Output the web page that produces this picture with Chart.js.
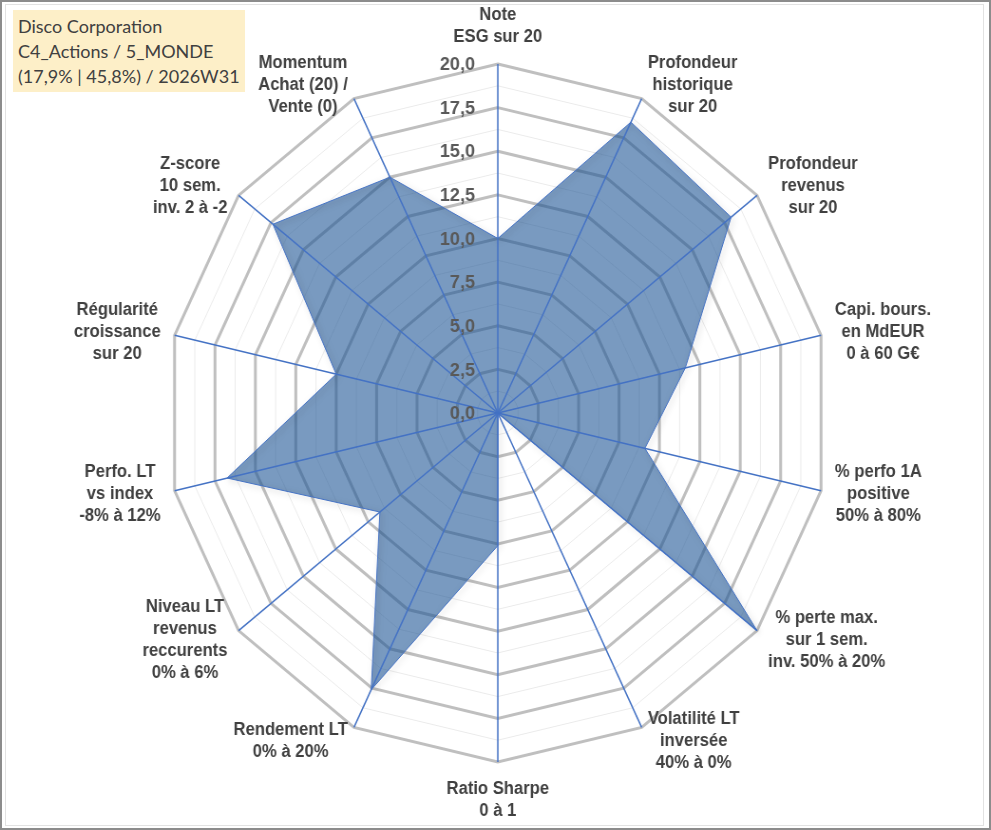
<!DOCTYPE html>
<html><head><meta charset="utf-8">
<script src="https://cdn.jsdelivr.net/npm/chart.js@4.4.1/dist/chart.umd.min.js"></script>
<style>
html,body{margin:0;padding:0;background:#fff;width:991px;height:830px;overflow:hidden;}
#wrap{position:absolute;left:0;top:0;width:1043px;height:830px;transform:scaleX(0.95);transform-origin:0 0;}
#frame{position:absolute;left:0;top:0;width:991px;height:830px;box-sizing:border-box;border:2px solid #8c8c8c;pointer-events:none;}
#inner{position:absolute;left:3px;top:2px;width:977px;height:820px;border:1px solid #e2e2e2;}
#title{position:absolute;left:13px;top:10px;width:232px;height:82px;background:#FDEFC8;font-family:Lato,"Open Sans",sans-serif;font-size:18px;color:#404040;line-height:25px;padding:4px 0 0 5px;box-sizing:border-box;white-space:nowrap;}
</style>
</head>
<body>
<div id="wrap"><canvas id="c" width="1043" height="830"></canvas></div>
<div id="frame"><div id="inner"></div></div>
<div id="title"></div>
<script>
const titleLines = ['Disco Corporation', 'C4_Actions / 5_MONDE', '(17,9% | 45,8%) / 2026W31'];
const categories = [
  ['Note', 'ESG sur 20'],
  ['Profondeur', 'historique', 'sur 20'],
  ['Profondeur', 'revenus', 'sur 20'],
  ['Capi. bours.', 'en MdEUR', '0 à 60 G€'],
  ['% perfo 1A', 'positive', '50% à 80%'],
  ['% perte max.', 'sur 1 sem.', 'inv. 50% à 20%'],
  ['Volatilité LT', 'inversée', '40% à 0%'],
  ['Ratio Sharpe', '0 à 1'],
  ['Rendement LT', '0% à 20%'],
  ['Niveau LT', 'revenus', 'reccurents', '0% à 6%'],
  ['Perfo. LT', 'vs index', '-8% à 12%'],
  ['Régularité', 'croissance', 'sur 20'],
  ['Z-score', '10 sem.', 'inv. 2 à -2'],
  ['Momentum', 'Achat (20) /', 'Vente (0)']
];
const scores = [10, 18.5, 18, 11.6, 9.1, 20, 0, 7.6, 17.6, 9.1, 16.75, 10, 17.35, 15];
const tickValues = [0, 2.5, 5, 7.5, 10, 12.5, 15, 17.5, 20];
const tickLabels = ['0,0', '2,5', '5,0', '7,5', '10,0', '12,5', '15,0', '17,5', '20,0'];

document.getElementById('title').innerHTML = titleLines.map(t => '<div>' + t + '</div>').join('');

const shadow = {
  id: 'shadow',
  beforeDatasetDraw(chart) {
    const ctx = chart.ctx;
    ctx.save();
    ctx.shadowColor = 'rgba(0,0,0,0.35)';
    ctx.shadowBlur = 6;
    ctx.shadowOffsetX = 2;
    ctx.shadowOffsetY = 2;
  },
  afterDatasetDraw(chart) {
    chart.ctx.restore();
  }
};

const overlay = {
  id: 'overlay',
  afterDatasetsDraw(chart) {
    const s = chart.scales.r;
    const ctx = chart.ctx;
    const n = chart.data.labels.length;
    ctx.save();
    ctx.strokeStyle = '#4472C4';
    ctx.lineWidth = 1.5;
    for (let i = 0; i < n; i++) {
      const p = s.getPointPosition(i, s.drawingArea);
      ctx.beginPath();
      ctx.moveTo(s.xCenter, s.yCenter);
      ctx.lineTo(p.x, p.y);
      ctx.stroke();
    }
    ctx.font = 'bold 19px "Liberation Sans", Arial, sans-serif';
    ctx.fillStyle = '#595959';
    ctx.textAlign = 'right';
    ctx.textBaseline = 'middle';
    tickValues.forEach((v, k) => {
      const y = s.yCenter - s.getDistanceFromCenterForValue(v);
      ctx.fillText(tickLabels[k], s.xCenter - 24, y + 1);
    });
    ctx.font = 'bold 17.5px "Liberation Sans", Arial, sans-serif';
    ctx.fillStyle = '#404040';
    ctx.textAlign = 'center';
    const lh = 22;
    for (let i = 0; i < n; i++) {
      const lines = chart.data.labels[i];
      const a = s.getIndexAngle(i);
      const sin = Math.sin(a), cos = Math.cos(a);
      const v = s.getPointPosition(i, s.drawingArea);
      const w = Math.max(...lines.map(t => ctx.measureText(t).width));
      const h = lines.length * lh;
      let cx, cy;
      if (Math.abs(sin) < 0.05) { cx = v.x; cy = v.y - cos * (16 + h / 2); }
      else { cx = v.x + sin * 15 + Math.sign(sin) * w / 2; cy = v.y - cos * 15; }
      lines.forEach((t, j) => ctx.fillText(t, cx, cy - h / 2 + lh * (j + 0.5)));
    }
    ctx.restore();
  }
};

new Chart(document.getElementById('c'), {
  type: 'radar',
  data: {
    labels: categories,
    datasets: [{
      data: scores,
      fill: true,
      backgroundColor: 'rgba(31,86,150,0.6)',
      borderColor: '#4472C4',
      borderWidth: 1,
      pointRadius: 0,
      pointHoverRadius: 0
    }]
  },
  options: {
    responsive: false,
    animation: false,
    layout: { padding: { left: 5, right: 0, top: 64, bottom: 68 } },
    plugins: { legend: { display: false }, tooltip: { enabled: false } },
    scales: {
      r: {
        min: 0, max: 20,
        ticks: { stepSize: 1.25, display: false },
        pointLabels: { display: false },
        angleLines: { display: false },
        grid: {
          color: c => (c.tick && c.tick.value % 2.5 === 0) ? '#BFBFBF' : '#EBEBEB',
          lineWidth: c => (c.tick && c.tick.value % 2.5 === 0) ? 3 : 1
        }
      }
    }
  },
  plugins: [shadow, overlay]
});
</script>
</body></html>
